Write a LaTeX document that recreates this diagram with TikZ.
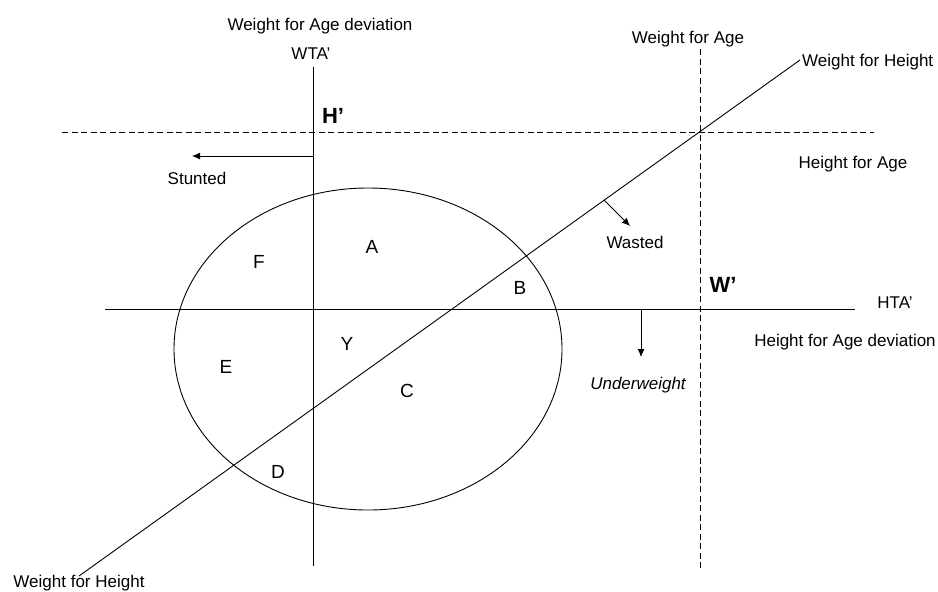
\documentclass[tikz,border=0pt]{standalone}
\usepackage{fontspec}
\setmainfont{Liberation Sans}
\usetikzlibrary{arrows.meta}

\begin{document}
\begin{tikzpicture}[x=1pt, y=-1pt,
      axis/.style={line width=0.9pt},
      refline/.style={line width=0.9pt, dash pattern=on 6pt off 3.5pt},
      shiftarrow/.style={line width=0.9pt, -{Latex[length=8pt,width=7pt]}},
      lbl/.style={font=\fontsize{17}{19}\selectfont, anchor=base, inner sep=0pt},
      zone/.style={font=\fontsize{19}{21}\selectfont, anchor=base, inner sep=0pt},
      pointlbl/.style={font=\fontsize{22}{24}\selectfont\bfseries, anchor=base, inner sep=0pt}]
   \useasboundingbox (0,0) rectangle (938,592);
   % End points of the axes and reference lines
   \coordinate (wtaTop) at (313,67);
   \coordinate (wtaBot) at (313,566);
   \coordinate (htaLeft) at (105,309);
   \coordinate (htaRight) at (855,309);
   \coordinate (hfaLeft) at (62,132);
   \coordinate (hfaRight) at (874,132);
   \coordinate (wfaTop) at (700,49);
   \coordinate (wfaBot) at (700,568);
   \coordinate (wfhLow) at (79,576);
   \coordinate (wfhHigh) at (800,60);
   % Deviation axes (solid)
   \draw[axis] (wtaTop) -- (wtaBot);
   \draw[axis] (htaLeft) -- (htaRight);
   % Reference lines (dashed)
   \draw[refline] (hfaLeft) -- (hfaRight);
   \draw[refline] (wfaTop) -- (wfaBot);
   % Weight for Height line
   \draw[axis] (wfhLow) -- (wfhHigh);
   % Population ellipse
   \draw[axis] (368,349) ellipse [x radius=194, y radius=161];
   % Axis and line labels
   \node[lbl] (wfaDev) at (320,30) {Weight for Age deviation};
   \node[lbl] (wta) at (311,59) {WTA’};
   \node[lbl] (wfa) at (688,43) {Weight for Age};
   \node[lbl, anchor=base west] (wfhTop) at (802,66) {Weight for Height};
   \node[lbl] (hfa) at (853,168) {Height for Age};
   \node[lbl] (hta) at (895,308) {HTA’};
   \node[lbl] (htaDev) at (845,346) {Height for Age deviation};
   \node[lbl] (wfhBot) at (79,587) {Weight for Height};
   % Points H' and W'
   \node[pointlbl] (hPrime) at (333,123) {H’};
   \node[pointlbl] (wPrime) at (723,292) {W’};
   % Shift arrows
   \coordinate (stuntFrom) at (313,156);
   \coordinate (stuntTo) at (192,156);
   \draw[shiftarrow] (stuntFrom) -- (stuntTo);
   \node[lbl] (stunted) at (197,184) {Stunted};
   \coordinate (wasteFrom) at (604,200);
   \coordinate (wasteTo) at (630,226);
   \draw[shiftarrow] (wasteFrom) -- (wasteTo);
   \node[lbl] (wasted) at (635,248) {Wasted};
   \coordinate (underFrom) at (641,309);
   \coordinate (underTo) at (641,357);
   \draw[shiftarrow] (underFrom) -- (underTo);
   \node[lbl, font=\fontsize{17}{19}\selectfont\itshape] (underweight) at (638,389) {Underweight};
   % Zones of the ellipse
   \node[zone] (zoneA) at (372,253) {A};
   \node[zone] (zoneB) at (520,294) {B};
   \node[zone] (zoneC) at (407,397) {C};
   \node[zone] (zoneD) at (278,478) {D};
   \node[zone] (zoneE) at (226,373) {E};
   \node[zone] (zoneF) at (259,268) {F};
   \node[zone] (zoneY) at (347,350) {Y};
\end{tikzpicture}
\end{document}
